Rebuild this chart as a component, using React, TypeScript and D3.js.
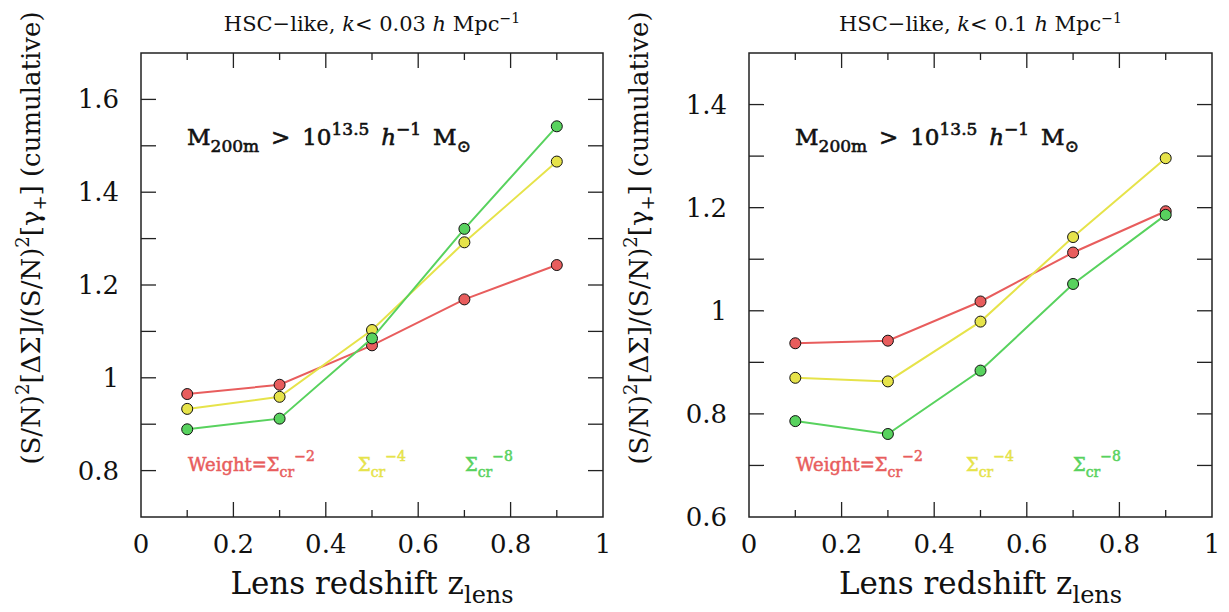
import React from 'react';
import * as d3 from 'd3';

// lens redshift bins
const zLens = [0.1, 0.3, 0.5, 0.7, 0.9];

// k < 0.03 h/Mpc
const leftW2 = [0.965, 0.985, 1.07, 1.169, 1.243];
const leftW4 = [0.933, 0.959, 1.103, 1.292, 1.466];
const leftW8 = [0.889, 0.912, 1.085, 1.321, 1.542];

// k < 0.1 h/Mpc
const rightW2 = [0.937, 0.942, 1.018, 1.113, 1.193];
const rightW4 = [0.87, 0.863, 0.979, 1.143, 1.296];
const rightW8 = [0.786, 0.761, 0.884, 1.052, 1.186];

const xMajor = [0, 0.2, 0.4, 0.6, 0.8, 1];
const xLabels = ['0', '0.2', '0.4', '0.6', '0.8', '1'];
const leftYLabels = [0.8, 1, 1.2, 1.4, 1.6];
const rightYLabels = [0.6, 0.8, 1, 1.2, 1.4];

const RED = '#e85d5d';
const YELLOW = '#e6e34a';
const GREEN = '#58d25e';
const FONT = '"DejaVu Serif", serif';
const SP = '\u00a0\u2009';

const W = 1229;
const H = 612;
const TOP = 53;
const BOTTOM = 517;

function fmt(v: number) {
  return Number.isInteger(v) ? String(v) : String(+v.toFixed(1));
}

function Panel({ x0, x1, yDomain, yLabels, series, kText, legendX }) {
  const x = d3.scaleLinear().domain([0, 1]).range([x0, x1]);
  const y = d3.scaleLinear().domain(yDomain).range([BOTTOM, TOP]);
  const line = d3
    .line<number>()
    .x((_, i) => x(zLens[i]))
    .y((d) => y(d));

  const xMinor = d3.range(0.1, 1, 0.2);
  const yTicks = d3.range(Math.round(yDomain[0] * 10) + 1, Math.round(yDomain[1] * 10)).map((v) => v / 10);
  const cx = (x0 + x1) / 2;

  return (
    <g fontFamily={FONT}>
      {/* title */}
      <text x={cx} y={31} textAnchor="middle" fontSize={21} fill="#111">
        HSC−like, <tspan fontStyle="italic">k</tspan>{'< ' + kText + ' '}
        <tspan fontStyle="italic">h</tspan> Mpc
        <tspan dy={-8} fontSize={14}>−1</tspan>
      </text>

      {/* series */}
      {series.map((s) => (
        <g key={s.name}>
          <path d={line(s.values) ?? ''} fill="none" stroke={s.color} strokeWidth={2} />
          {s.values.map((v, i) => (
            <circle key={i} cx={x(zLens[i])} cy={y(v)} r={5.5} fill={s.color} stroke="#111" strokeWidth={1} />
          ))}
        </g>
      ))}

      {/* frame and ticks */}
      <rect x={x0} y={TOP} width={x1 - x0} height={BOTTOM - TOP} fill="none" stroke="#222" strokeWidth={1.5} />
      {xMajor.slice(1, -1).map((t) => (
        <g key={'xM' + t} stroke="#222" strokeWidth={1.3}>
          <line x1={x(t)} x2={x(t)} y1={BOTTOM} y2={BOTTOM - 15} />
          <line x1={x(t)} x2={x(t)} y1={TOP} y2={TOP + 15} />
        </g>
      ))}
      {xMinor.map((t) => (
        <g key={'xm' + t} stroke="#222" strokeWidth={1.3}>
          <line x1={x(t)} x2={x(t)} y1={BOTTOM} y2={BOTTOM - 7} />
          <line x1={x(t)} x2={x(t)} y1={TOP} y2={TOP + 7} />
        </g>
      ))}
      {yTicks.map((t) => (
        <g key={'y' + t} stroke="#222" strokeWidth={1.3}>
          <line x1={x0} x2={x0 + 15} y1={y(t)} y2={y(t)} />
          <line x1={x1} x2={x1 - 15} y1={y(t)} y2={y(t)} />
        </g>
      ))}

      {/* tick labels */}
      {xMajor.map((t, i) => (
        <text key={'xl' + t} x={x(t)} y={553} textAnchor="middle" fontSize={26} fill="#111">
          {xLabels[i]}
        </text>
      ))}
      {yLabels.map((t) => (
        <text key={'yl' + t} x={x0 - 22} y={y(t) + 9} textAnchor="end" fontSize={26} fill="#111">
          {fmt(t)}
        </text>
      ))}

      {/* axis labels */}
      <text x={cx} y={594} textAnchor="middle" fontSize={31} fill="#111">
        Lens redshift z<tspan dy={9} fontSize={24}>lens</tspan>
      </text>
      <text
        transform={`translate(${x0 - 101},${238}) rotate(-90)`}
        textAnchor="middle"
        fontSize={26}
        fill="#111"
      >
        (S/N)<tspan dy={-11} fontSize={18}>2</tspan>
        <tspan dy={11}>[ΔΣ]/(S/N)</tspan>
        <tspan dy={-11} fontSize={18}>2</tspan>
        <tspan dy={11}>[γ</tspan>
        <tspan dy={6} fontSize={18}>+</tspan>
        <tspan dy={-6}>] (cumulative)</tspan>
      </text>

      {/* annotation */}
      <text x={x0 + 46} y={145} fontSize={23} stroke="#111" strokeWidth={0.6} fill="#111">
        M<tspan dy={7} fontSize={17}>200m</tspan>
        <tspan dy={-7}>{SP + '>' + SP + '10'}</tspan>
        <tspan dy={-10} fontSize={17}>13.5</tspan>
        <tspan dy={10}>{SP}</tspan>
        <tspan fontStyle="italic">h</tspan>
        <tspan dy={-10} fontSize={17}>−1</tspan>
        <tspan dy={10}>{SP + 'M'}</tspan>
        <tspan dy={7} fontSize={17}>⊙</tspan>
      </text>

      {/* legend */}
      {series.map((s, i) => (
        <text
          key={'lg' + s.name}
          x={legendX[i]}
          y={471}
          fontSize={18}
          stroke={s.color}
          strokeWidth={0.5}
          fill={s.color}
        >
          {i === 0 ? 'Weight=Σ' : 'Σ'}
          <tspan dy={6} fontSize={14}>cr</tspan>
          <tspan dy={-16} fontSize={14}>{s.name}</tspan>
        </text>
      ))}
    </g>
  );
}

export default function App() {
  const left = [
    { name: '−2', color: RED, values: leftW2 },
    { name: '−4', color: YELLOW, values: leftW4 },
    { name: '−8', color: GREEN, values: leftW8 },
  ];
  const right = [
    { name: '−2', color: RED, values: rightW2 },
    { name: '−4', color: YELLOW, values: rightW4 },
    { name: '−8', color: GREEN, values: rightW8 },
  ];
  return (
    <svg width={W} height={H} style={{ position: 'absolute', left: 0, top: 0, background: '#fff' }}>
      <rect width={W} height={H} fill="#fff" />
      <Panel
        x0={141}
        x1={603}
        yDomain={[0.7, 1.7]}
        yLabels={leftYLabels}
        series={left}
        kText="0.03"
        legendX={[188, 358, 465]}
      />
      <Panel
        x0={749}
        x1={1212}
        yDomain={[0.6, 1.5]}
        yLabels={rightYLabels}
        series={right}
        kText="0.1"
        legendX={[796, 966, 1073]}
      />
    </svg>
  );
}
